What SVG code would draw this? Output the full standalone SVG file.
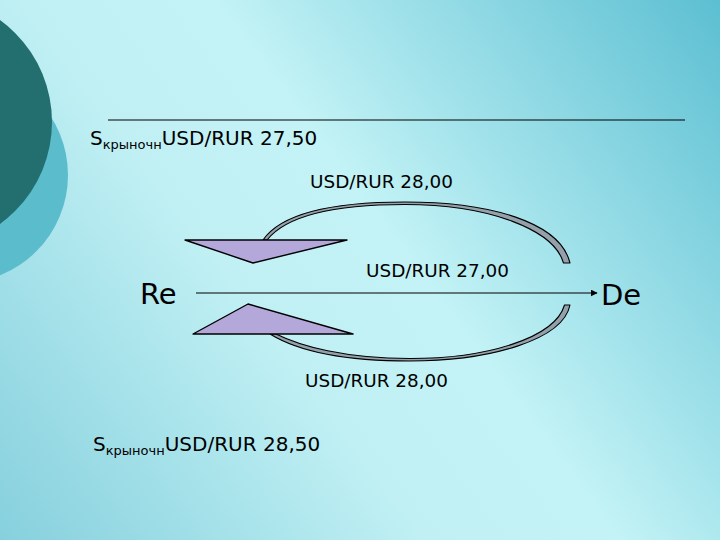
<svg xmlns="http://www.w3.org/2000/svg" width="720" height="540" viewBox="0 0 720 540">
<defs>
<linearGradient id="bg" gradientUnits="userSpaceOnUse" x1="720" y1="0" x2="0" y2="540">
<stop offset="0" stop-color="#5cbfd2"/>
<stop offset="0.45" stop-color="#c3f3f6"/>
<stop offset="0.62" stop-color="#c0f0f4"/>
<stop offset="1" stop-color="#86d0dd"/>
</linearGradient>
<marker id="ah" viewBox="0 0 10 10" refX="9" refY="5" markerWidth="7" markerHeight="7" markerUnits="userSpaceOnUse" orient="auto">
<path d="M0,0 L10,5 L0,10 Z" fill="#000"/>
</marker>
<style>
.t{font-family:"DejaVu Sans","Verdana",sans-serif;fill:#000}
.big{font-size:20px}
.mid{font-size:18.4px}
.sub{font-size:13px}
.node{font-size:29px}
.tri{fill:#b3a8d9;stroke:#000;stroke-width:1.4;stroke-linejoin:round}
.band{fill:#94a0aa;stroke:#000;stroke-width:1.1;stroke-linejoin:round}
</style>
</defs>
<rect width="720" height="540" fill="url(#bg)"/>
<g id="decor">
<circle cx="-40" cy="175" r="108" fill="#5bbccc"/>
<circle cx="-74" cy="122" r="126" fill="#236f70"/>
<line x1="108" y1="120" x2="685" y2="120" stroke="#000" stroke-width="1.2"/>
</g>
<g id="label-top">
<text class="t big" x="90" y="145">S<tspan class="sub" dy="4">крыночн</tspan><tspan dy="-4">USD/RUR 27,50</tspan></text>
</g>
<g id="label-bottom">
<text class="t big" x="93" y="451">S<tspan class="sub" dy="4">крыночн</tspan><tspan dy="-4">USD/RUR 28,50</tspan></text>
</g>
<g id="node-re">
<text class="t node" x="140" y="304">Re</text>
</g>
<g id="node-de">
<text class="t node" x="601" y="305">De</text>
</g>
<g id="connectors">
<line x1="196" y1="293" x2="597" y2="293" stroke="#000" stroke-width="1.2" marker-end="url(#ah)"/>
<path class="band" d="M263,240 C285,208 350,202 405,202 C490,202 560,222 570,263 L563.5,263 C554,230 490,204.5 405,204.5 C352,204.5 290,211 267,240 Z"/>
<polygon class="tri" points="185,240 347,240 253,263"/>
<path class="band" d="M570,305 C563,340 490,361 410,361 C340,361 296,350 270,334 L276,334 C300,346 345,358.5 410,358.5 C487,358.5 555,338 564.5,305 Z"/>
<polygon class="tri" points="193,334 248,304 353,334"/>
<text class="t mid" x="310" y="188">USD/RUR 28,00</text>
<text class="t mid" x="366" y="277">USD/RUR 27,00</text>
<text class="t mid" x="305" y="387">USD/RUR 28,00</text>
</g>
</svg>
